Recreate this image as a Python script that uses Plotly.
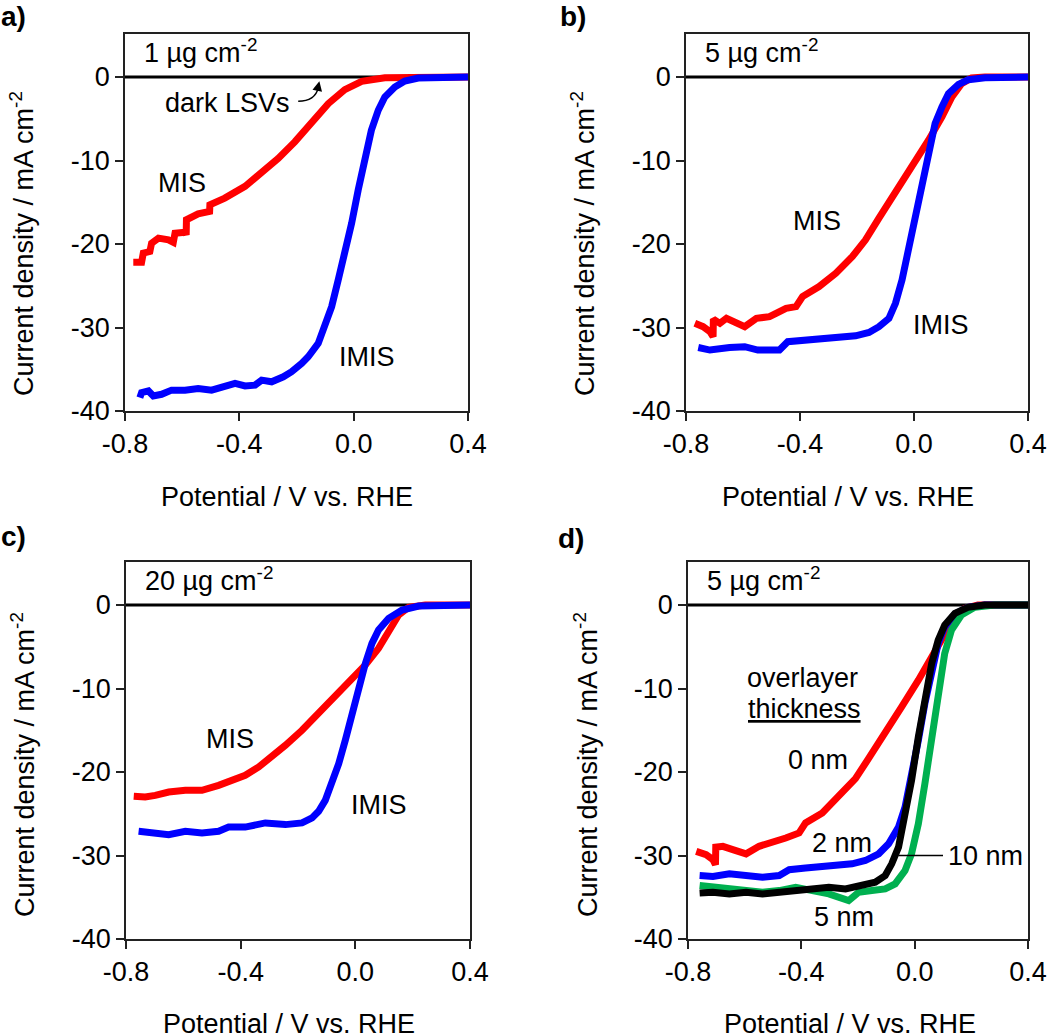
import plotly.graph_objects as go

# ---------------- data ----------------
dark_v = [-0.8, 0.4]
dark_j = [0.0, 0.0]

# Panel a: 1 ug cm-2
a_mis_v = [-0.771, -0.742, -0.736, -0.713, -0.707, -0.683, -0.648, -0.631, -0.625, -0.590, -0.586, -0.585,
           -0.544, -0.504, -0.503, -0.451, -0.380, -0.322, -0.264, -0.206, -0.147, -0.089, -0.031, 0.028,
           0.109, 0.202, 0.4]
a_mis_j = [-22.2, -22.2, -21.1, -20.9, -19.9, -19.3, -19.5, -19.8, -18.7, -18.6, -18.9, -17.1,
           -16.4, -16.1, -15.3, -14.5, -13.1, -11.55, -9.76, -7.77, -5.58, -3.19, -1.51, -0.52,
           -0.08, 0.0, 0.0]
a_imis_v = [-0.748, -0.742, -0.718, -0.701, -0.672, -0.637, -0.590, -0.544, -0.497, -0.450, -0.415, -0.380,
            -0.345, -0.322, -0.287, -0.246, -0.217, -0.182, -0.159, -0.124, -0.101, -0.077, -0.054, -0.031,
            -0.007, 0.016, 0.039, 0.062, 0.086, 0.109, 0.144, 0.179, 0.226, 0.296, 0.4]
a_imis_j = [-38.4, -37.8, -37.6, -38.2, -38.0, -37.5, -37.5, -37.3, -37.5, -37.0, -36.7, -37.0,
            -36.9, -36.3, -36.5, -35.9, -35.3, -34.3, -33.5, -31.9, -29.9, -27.5, -24.3, -21.1,
            -17.5, -13.5, -9.56, -6.37, -3.98, -2.39, -1.20, -0.48, -0.12, 0.0, 0.0]

# Panel b: 5 ug cm-2
b_mis_v = [-0.769, -0.740, -0.716, -0.705, -0.704, -0.681, -0.658, -0.623, -0.594, -0.553, -0.507, -0.484,
           -0.449, -0.414, -0.391, -0.333, -0.274, -0.216, -0.170, -0.123, -0.065, -0.007, 0.051, 0.098,
           0.133, 0.167, 0.202, 0.249, 0.4]
b_mis_j = [-29.5, -29.9, -30.5, -31.1, -29.0, -29.5, -28.9, -29.5, -29.9, -28.9, -28.7, -28.3,
           -27.7, -27.5, -26.3, -25.1, -23.5, -21.5, -19.5, -16.9, -13.9, -10.8, -7.57, -4.78,
           -2.39, -0.80, -0.12, 0.0, 0.0]
b_imis_v = [-0.757, -0.716, -0.647, -0.594, -0.548, -0.495, -0.472, -0.443, -0.379, -0.321, -0.263, -0.205,
            -0.158, -0.123, -0.088, -0.065, -0.042, -0.019, 0.005, 0.028, 0.051, 0.074, 0.098, 0.121,
            0.156, 0.191, 0.249, 0.4]
b_imis_j = [-32.4, -32.7, -32.4, -32.3, -32.7, -32.6, -32.7, -31.7, -31.5, -31.2, -31.2, -31.0,
            -30.6, -29.9, -28.9, -27.1, -24.3, -20.7, -16.7, -12.7, -8.76, -5.58, -3.59, -1.99,
            -0.88, -0.32, -0.08, 0.0]

# Panel c: 20 ug cm-2
c_mis_v = [-0.773, -0.733, -0.698, -0.651, -0.593, -0.535, -0.477, -0.430, -0.384, -0.337, -0.291, -0.244,
           -0.186, -0.128, -0.070, -0.012, 0.035, 0.081, 0.116, 0.151, 0.186, 0.244, 0.4]
c_mis_j = [-22.9, -23.0, -22.8, -22.4, -22.2, -22.2, -21.6, -21.0, -20.4, -19.4, -18.2, -16.8,
           -15.0, -13.0, -11.0, -9.0, -7.19, -5.19, -2.99, -1.20, -0.28, 0.0, 0.0]
c_imis_v = [-0.756, -0.709, -0.651, -0.593, -0.535, -0.477, -0.442, -0.384, -0.314, -0.244, -0.186, -0.151,
            -0.128, -0.105, -0.081, -0.058, -0.035, -0.012, 0.012, 0.035, 0.058, 0.081, 0.116, 0.163,
            0.221, 0.4]
c_imis_j = [-27.1, -27.3, -27.5, -27.1, -27.3, -27.1, -26.6, -26.6, -26.1, -26.3, -26.1, -25.5,
            -24.7, -23.4, -21.4, -19.0, -16.2, -13.0, -9.78, -6.99, -4.59, -2.99, -1.60, -0.60,
            -0.12, 0.0]

# Panel d: 5 ug cm-2, overlayer thickness
d_0nm_v = [-0.771, -0.736, -0.712, -0.703, -0.702, -0.677, -0.642, -0.595, -0.549, -0.502, -0.455, -0.408,
           -0.385, -0.326, -0.268, -0.209, -0.163, -0.104, -0.046, 0.013, 0.060, 0.106, 0.142, 0.177,
           0.223, 0.4]
d_0nm_j = [-29.5, -29.9, -30.5, -31.1, -29.0, -28.9, -29.3, -29.8, -28.9, -28.5, -27.9, -27.3,
           -26.1, -24.9, -22.9, -20.8, -18.4, -15.4, -12.2, -9.0, -6.19, -3.39, -1.40, -0.40,
           0.0, 0.0]
d_2nm_v = [-0.759, -0.712, -0.654, -0.595, -0.537, -0.478, -0.443, -0.385, -0.326, -0.268, -0.221, -0.174,
           -0.127, -0.092, -0.057, -0.034, -0.011, 0.013, 0.036, 0.060, 0.083, 0.106, 0.142, 0.188,
           0.247, 0.4]
d_2nm_j = [-32.4, -32.5, -32.2, -32.4, -32.6, -32.4, -31.7, -31.5, -31.3, -31.1, -31.0, -30.6,
           -29.8, -28.6, -26.6, -24.2, -20.6, -16.2, -11.8, -7.8, -4.6, -2.6, -1.08, -0.28,
           0.0, 0.0]
d_5nm_v = [-0.759, -0.712, -0.654, -0.595, -0.537, -0.478, -0.420, -0.361, -0.303, -0.233, -0.198, -0.151,
           -0.104, -0.069, -0.034, -0.011, 0.013, 0.036, 0.060, 0.083, 0.106, 0.130, 0.165, 0.212,
           0.282, 0.4]
d_5nm_j = [-33.6, -33.8, -34.0, -34.1, -34.4, -34.2, -33.8, -34.2, -34.6, -35.4, -34.4, -34.2,
           -34.0, -33.4, -31.8, -29.8, -26.2, -21.4, -15.8, -10.2, -5.8, -3.0, -1.2, -0.28,
           0.0, 0.0]
d_10nm_v = [-0.759, -0.712, -0.654, -0.595, -0.537, -0.478, -0.420, -0.361, -0.303, -0.244, -0.186, -0.139,
            -0.104, -0.081, -0.057, -0.034, -0.011, 0.013, 0.036, 0.060, 0.083, 0.106, 0.142, 0.188,
            0.247, 0.4]
d_10nm_j = [-34.5, -34.4, -34.6, -34.4, -34.6, -34.4, -34.2, -34.0, -33.8, -34.0, -33.6, -33.2,
            -32.4, -31.0, -29.0, -25.4, -21.0, -15.8, -11.0, -7.0, -4.2, -2.4, -1.0, -0.28,
            0.0, 0.0]

x_tickvals = [-0.8, -0.4, 0.0, 0.4]
x_ticktext = ["-0.8", "-0.4", "0.0", "0.4"]
y_tickvals = [-40, -30, -20, -10, 0]
y_ticktext = ["-40", "-30", "-20", "-10", "0"]

loadings = ["1 µg cm<sup>-2</sup>", "5 µg cm<sup>-2</sup>", "20 µg cm<sup>-2</sup>", "5 µg cm<sup>-2</sup>"]
panel_letters = ["a)", "b)", "c)", "d)"]

# ---------------- figure ----------------
W, H = 1050, 1034
FONT = "Arial, Liberation Sans, sans-serif"
FS = 27
RED, BLUE, GREEN, BLACK = "#FF0000", "#0000FF", "#00B050", "#000000"

def px_x(p):
    return p / W

def px_y(p):
    return 1 - p / H

# plot-area boxes in window pixels (left, right, top, bottom)
boxes = [(125, 468, 34, 411), (686, 1028, 34, 411), (126, 470, 562, 939), (688, 1028, 562, 939)]

fig = go.Figure()

def add_line(i, v, j, color, width=7):
    sfx = "" if i == 0 else str(i + 1)
    fig.add_trace(go.Scatter(x=v, y=j, mode="lines", line=dict(color=color, width=width),
                             xaxis="x" + sfx, yaxis="y" + sfx, hoverinfo="skip"))

# dark LSVs first (underneath)
for i in range(4):
    add_line(i, dark_v, dark_j, BLACK, width=3)

add_line(0, a_mis_v, a_mis_j, RED)
add_line(0, a_imis_v, a_imis_j, BLUE)
add_line(1, b_mis_v, b_mis_j, RED)
add_line(1, b_imis_v, b_imis_j, BLUE)
add_line(2, c_mis_v, c_mis_j, RED)
add_line(2, c_imis_v, c_imis_j, BLUE)
add_line(3, d_0nm_v, d_0nm_j, RED)
add_line(3, d_2nm_v, d_2nm_j, BLUE)
add_line(3, d_5nm_v, d_5nm_j, GREEN)
add_line(3, d_10nm_v, d_10nm_j, BLACK)

layout = dict(width=W, height=H, margin=dict(l=0, r=0, t=0, b=0, autoexpand=False),
              paper_bgcolor="white", plot_bgcolor="white", showlegend=False,
              font=dict(family=FONT, size=FS, color="black"))

axis_common = dict(showgrid=False, zeroline=False, showline=True, mirror=True,
                   linecolor="#222222", linewidth=1.5, ticks="outside", ticklen=8,
                   tickwidth=1.5, tickcolor="#222222", automargin=False,
                   tickfont=dict(family=FONT, size=FS, color="black"))

for i, (l, r, t, b) in enumerate(boxes):
    sfx = "" if i == 0 else str(i + 1)
    layout["xaxis" + sfx] = dict(axis_common, domain=[px_x(l), px_x(r)], range=[-0.8, 0.4],
                                 tickmode="array", tickvals=x_tickvals, ticktext=x_ticktext,
                                 anchor="y" + sfx, fixedrange=True)
    layout["yaxis" + sfx] = dict(axis_common, domain=[px_y(b), px_y(t)], range=[-40, 5.15],
                                 tickmode="array", tickvals=y_tickvals, ticktext=y_ticktext,
                                 anchor="x" + sfx, fixedrange=True)

fig.update_layout(**layout)

ann = []
shapes = []

def dtext(i, x, y, text, xanchor="center", yanchor="middle"):
    sfx = "" if i == 0 else str(i + 1)
    ann.append(dict(x=x, y=y, xref="x" + sfx, yref="y" + sfx, text=text, showarrow=False,
                    xanchor=xanchor, yanchor=yanchor, font=dict(family=FONT, size=FS, color="black")))

# loading headers
for i in range(4):
    dtext(i, -0.74, 3.1, loadings[i], xanchor="left")

# panel letters
letter_pos = [(-1, 16), (558, 16), (-1, 536), (556, 538)]
for k, (px, py) in enumerate(letter_pos):
    ann.append(dict(x=px_x(px), y=px_y(py), xref="paper", yref="paper", text="<b>" + panel_letters[k] + "</b>",
                    showarrow=False, xanchor="left", yanchor="middle",
                    font=dict(family=FONT, size=28, color="black")))

# axis titles
ytitle_pos = [(22, 244), (583, 244), (23, 765), (586, 765)]
xtitle_pos = [(287, 497), (848, 497), (289, 1024), (850, 1024)]
for k in range(4):
    ann.append(dict(x=px_x(ytitle_pos[k][0]), y=px_y(ytitle_pos[k][1]), xref="paper", yref="paper",
                    text="Current density / mA cm<sup>-2</sup>", textangle=-90, showarrow=False,
                    xanchor="center", yanchor="middle", font=dict(family=FONT, size=FS, color="black")))
    ann.append(dict(x=px_x(xtitle_pos[k][0]), y=px_y(xtitle_pos[k][1]), xref="paper", yref="paper",
                    text="Potential / V vs. RHE", showarrow=False,
                    xanchor="center", yanchor="middle", font=dict(family=FONT, size=FS, color="black")))

# curve labels
dtext(0, -0.600, -12.75, "MIS")
dtext(0, 0.045, -33.5, "IMIS")
dtext(0, -0.442, -3.1, "dark LSVs")
dtext(1, -0.342, -17.3, "MIS")
dtext(1, 0.094, -29.7, "IMIS")
dtext(2, -0.436, -16.0, "MIS")
dtext(2, 0.081, -24.0, "IMIS")
dtext(3, -0.396, -8.7, "overlayer")
dtext(3, -0.388, -12.4, "<u>thickness</u>")
dtext(3, -0.342, -18.6, "0 nm")
dtext(3, -0.256, -28.5, "2 nm")
dtext(3, -0.248, -37.4, "5 nm")
dtext(3, 0.112, -30.0, "10 nm", xanchor="left")

# leader line for 10 nm
shapes.append(dict(type="line", xref="x4", yref="y4", x0=-0.057, y0=-30.0, x1=0.100, y1=-30.0,
                   line=dict(color="black", width=1.5)))
# curved arrow for dark LSVs
shapes.append(dict(type="path", xref="x", yref="y",
                   path="M -0.194,-2.9 Q -0.135,-2.9 -0.124,-1.3",
                   line=dict(color="black", width=1.5)))
ann.append(dict(x=-0.120, y=-0.5, xref="x", yref="y", ax=-2, ay=9, axref="pixel", ayref="pixel",
                text="", showarrow=True, arrowhead=2, arrowsize=1.3, arrowwidth=1.5, arrowcolor="black"))

fig.update_layout(annotations=ann, shapes=shapes)

# remove the default 8 px page margin so the figure fills the window exactly
page_fix = ("document.body.style.margin='0px';document.body.style.padding='0px';"
            "document.body.style.overflow='hidden';")
fig.write_html("out.html", post_script=page_fix, config={"displayModeBar": False})
